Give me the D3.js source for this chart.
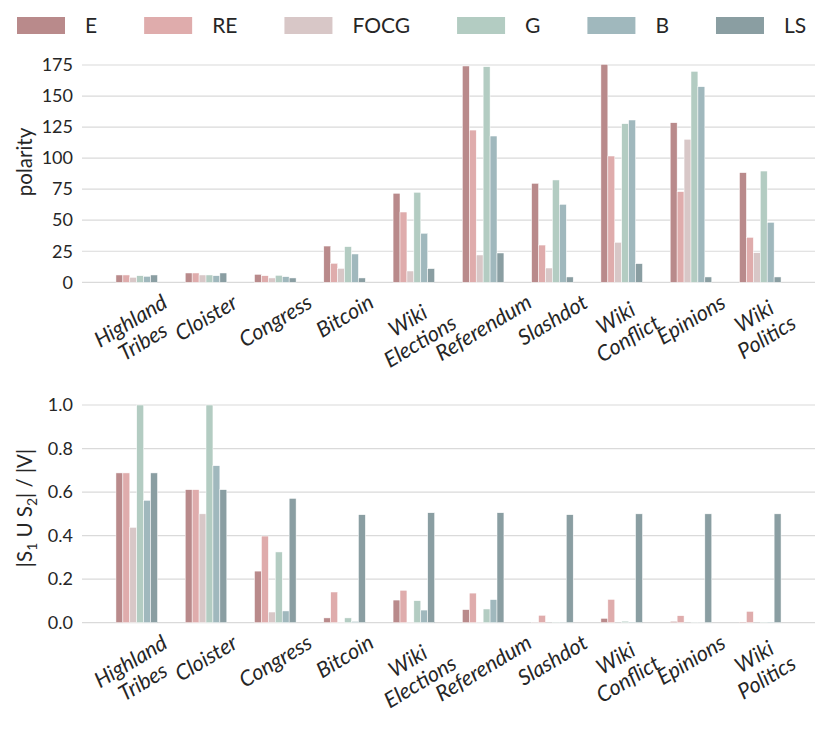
<!DOCTYPE html>
<html><head><meta charset="utf-8">
<script src="https://cdn.jsdelivr.net/npm/d3@7"></script>
<style>
body{margin:0;background:#fff;}
text{font-family:Lato,"Open Sans",sans-serif;fill:#262626;}
</style></head>
<body>
<svg id="c" width="831" height="730"></svg>
<script>
const categories = ["Highland\nTribes","Cloister","Congress","Bitcoin","Wiki\nElections","Referendum","Slashdot","Wiki\nConflict","Epinions","Wiki\nPolitics"];
const seriesNames = ["E","RE","FOCG","G","B","LS"];
const seriesColors = ["#b98a8b","#dfacac","#d8c7c7","#b3ccc2","#a0b8bd","#8a9ea2"];

// polarity per series (top panel)
const polE    = [5.9, 7.5, 6.4, 29.2, 71.7, 174.2, 79.7, 175.5, 128.5, 88.3];
const polRE   = [5.9, 7.5, 5.3, 15.3, 56.6, 122.6, 30.0, 101.7, 73.0, 36.2];
const polFOCG = [4.0, 5.9, 3.5, 11.2, 9.1, 22.0, 11.5, 32.2, 115.2, 23.8];
const polG    = [5.3, 5.9, 5.6, 28.7, 72.5, 173.6, 82.4, 127.7, 169.9, 89.6];
const polB    = [4.8, 5.3, 4.5, 22.8, 39.5, 117.8, 62.8, 130.7, 157.5, 48.3];
const polLS   = [5.9, 7.5, 3.5, 3.5, 11.0, 23.6, 4.3, 15.0, 4.3, 4.3];

// |S1 U S2| / |V| per series (bottom panel)
const covE    = [0.688, 0.611, 0.237, 0.022, 0.104, 0.060, 0.001, 0.020, 0.006, 0.003];
const covRE   = [0.688, 0.611, 0.398, 0.141, 0.149, 0.136, 0.034, 0.107, 0.032, 0.052];
const covFOCG = [0.438, 0.500, 0.049, 0.001, 0.001, 0.001, 0.000, 0.000, 0.000, 0.000];
const covG    = [1.000, 1.000, 0.325, 0.022, 0.101, 0.063, 0.002, 0.007, 0.001, 0.002];
const covB    = [0.562, 0.721, 0.054, 0.006, 0.058, 0.106, 0.002, 0.003, 0.001, 0.003];
const covLS   = [0.688, 0.611, 0.571, 0.496, 0.505, 0.505, 0.496, 0.500, 0.500, 0.500];

const polTicks = [0,25,50,75,100,125,150,175];
const covTicks = [0,0.2,0.4,0.6,0.8,1.0];

const polData = [polE, polRE, polFOCG, polG, polB, polLS];
const covData = [covE, covRE, covFOCG, covG, covB, covLS];

const svg = d3.select("#c");
const X0 = 82, X1 = 815;

const xBand = d3.scaleBand().domain(categories).range([X0, X1]).paddingInner(0).paddingOuter(0.29);
const xSer = d3.scaleBand().domain(seriesNames).range([0, xBand.bandwidth()*0.6]);
const color = d3.scaleOrdinal().domain(seriesNames).range(seriesColors);

function panel(data, yDomain, yRange, ticks, fmt, labelFn, labelY){
  const y = d3.scaleLinear().domain(yDomain).range(yRange);
  const g = svg.append("g");
  // grid
  g.selectAll("line.grid").data(ticks).join("line")
    .attr("x1", X0).attr("x2", X1)
    .attr("y1", d=>y(d)).attr("y2", d=>y(d))
    .attr("stroke", "#dadada").attr("stroke-width", 1.2);
  // y axis labels
  const ax = d3.axisLeft(y).tickValues(ticks).tickFormat(fmt).tickSize(0).tickPadding(9);
  const axg = g.append("g").attr("transform", `translate(${X0},0)`).call(ax);
  axg.select(".domain").remove();
  axg.selectAll("text").attr("font-size", 18).style("font-family","Lato,sans-serif").attr("fill","#262626");
  // bars
  const rows = [];
  data.forEach((arr, si) => arr.forEach((v, ci) => rows.push({s: seriesNames[si], c: categories[ci], v})));
  g.selectAll("rect.bar").data(rows).join("rect")
    .attr("x", d => xBand(d.c) + xBand.bandwidth()*0.2 + xSer(d.s))
    .attr("width", xSer.bandwidth())
    .attr("y", d => y(d.v))
    .attr("height", d => y(0) - y(d.v))
    .attr("fill", d => color(d.s))
    .attr("stroke", "#ffffff").attr("stroke-width", 0.5);
  // x labels
  const y0 = y(0) + 6;
  categories.forEach(c => {
    const outer = g.append("g");
    const inner = outer.append("g").attr("transform", "rotate(-31)");
    const lines = c.split("\n");
    const t = inner.append("text").attr("text-anchor","middle").attr("font-size", 21.5).attr("font-style","italic");
    lines.forEach((ln, i) => t.append("tspan").attr("x", 0).attr("dy", i === 0 ? 0 : "1.12em").text(ln));
    const bb = outer.node().getBBox();
    const cx = xBand(c) + xBand.bandwidth()/2;
    outer.attr("transform", `translate(${cx - (bb.x + bb.width/2)},${y0 - bb.y})`);
  });
  // y label
  const yl = g.append("text").attr("transform", `translate(32,${labelY}) rotate(-90)`)
    .attr("text-anchor","middle").attr("font-size", 20.5);
  labelFn(yl);
  return y;
}

panel(polData, [0,175], [282.3, 65], polTicks, d3.format("d"), t => t.text("polarity"), 162);
panel(covData, [0,1], [622.7, 405], covTicks, d3.format(".1f"), t => {
  t.append("tspan").text("|S");
  t.append("tspan").attr("font-size", 14).attr("dy", 5).text("1");
  t.append("tspan").attr("dy", -5).text(" U S");
  t.append("tspan").attr("font-size", 14).attr("dy", 5).text("2");
  t.append("tspan").attr("dy", -5).text("| / |V|");
}, 508);

// legend
const leg = svg.append("g");
let lx = 17;
seriesNames.forEach((s, i) => {
  leg.append("rect").attr("x", lx).attr("y", 17).attr("width", 48).attr("height", 17).attr("fill", color(s));
  const t = leg.append("text").attr("x", lx + 68).attr("y", 33).attr("font-size", 21).text(s);
  const w = t.node().getComputedTextLength();
  lx = lx + 68 + w + 47;
});
</script>
</body></html>
